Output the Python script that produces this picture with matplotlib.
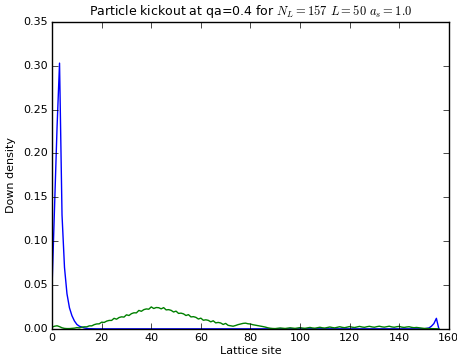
import matplotlib
matplotlib.use("Agg")
import matplotlib.pyplot as plt

plt.style.use("classic")
plt.rcParams["mathtext.fontset"] = "cm"
plt.rcParams["font.size"] = 8

# site index 0..156
sites = list(range(157))

# spin-down density, initial kicked particle (blue)
blue_density = [
    0.050, 0.140, 0.230, 0.303, 0.130, 0.070, 0.040, 0.024, 0.015, 0.009,
    0.005, 0.003, 0.002, 0.001, 0.0005, 0.0002, 0.0001, 0.0, 0.0, 0.0,
    0.0, 0.0, 0.0, 0.0, 0.0, 0.0, 0.0, 0.0, 0.0, 0.0,
    0.0, 0.0, 0.0, 0.0, 0.0, 0.0, 0.0, 0.0, 0.0, 0.0,
    0.0, 0.0, 0.0, 0.0, 0.0, 0.0, 0.0, 0.0, 0.0, 0.0,
    0.0, 0.0, 0.0, 0.0, 0.0, 0.0, 0.0, 0.0, 0.0, 0.0,
    0.0, 0.0, 0.0, 0.0, 0.0, 0.0, 0.0, 0.0, 0.0, 0.0,
    0.0, 0.0, 0.0, 0.0, 0.0, 0.0, 0.0, 0.0, 0.0, 0.0,
    0.0, 0.0, 0.0, 0.0, 0.0, 0.0, 0.0, 0.0, 0.0, 0.0,
    0.0, 0.0, 0.0, 0.0, 0.0, 0.0, 0.0, 0.0, 0.0, 0.0,
    0.0, 0.0, 0.0, 0.0, 0.0, 0.0, 0.0, 0.0, 0.0, 0.0,
    0.0, 0.0, 0.0, 0.0, 0.0, 0.0, 0.0, 0.0, 0.0, 0.0,
    0.0, 0.0, 0.0, 0.0, 0.0, 0.0, 0.0, 0.0, 0.0, 0.0,
    0.0, 0.0, 0.0, 0.0, 0.0, 0.0, 0.0, 0.0, 0.0, 0.0,
    0.0, 0.0, 0.0, 0.0, 0.0, 0.0, 0.0, 0.0, 0.0, 0.0,
    0.0, 0.0005, 0.001, 0.003, 0.006, 0.012, 0.0,
]

# spin-down density after kickout (green)
green_density = [
    0.0020, 0.0030, 0.0035, 0.0025, 0.0012, 0.0005, 0.0003, 0.0003, 0.0005, 0.0008,
    0.0014, 0.0011, 0.0019, 0.0023, 0.0023, 0.0034, 0.0034, 0.0048, 0.0056, 0.0057,
    0.0076, 0.0073, 0.0088, 0.0096, 0.0096, 0.0120, 0.0110, 0.0129, 0.0137, 0.0134,
    0.0160, 0.0152, 0.0173, 0.0183, 0.0182, 0.0210, 0.0200, 0.0219, 0.0227, 0.0224,
    0.0250, 0.0232, 0.0243, 0.0241, 0.0228, 0.0242, 0.0216, 0.0219, 0.0211, 0.0192,
    0.0202, 0.0176, 0.0179, 0.0171, 0.0152, 0.0162, 0.0136, 0.0139, 0.0131, 0.0112,
    0.0122, 0.0098, 0.0103, 0.0097, 0.0080, 0.0092, 0.0068, 0.0073, 0.0067, 0.0050,
    0.0062, 0.0040, 0.0035, 0.0030, 0.0038, 0.0048, 0.0055, 0.0062, 0.0065, 0.0058,
    0.0055, 0.0047, 0.0042, 0.0036, 0.0032, 0.0026, 0.0020, 0.0012, 0.0007, 0.0004,
    0.0003, 0.0006, 0.0010, 0.0007, 0.0004, 0.0008, 0.0012, 0.0008, 0.0005, 0.0010,
    0.0014, 0.0009, 0.0006, 0.0011, 0.0016, 0.0010, 0.0007, 0.0013, 0.0018, 0.0012,
    0.0009, 0.0015, 0.0021, 0.0015, 0.0011, 0.0018, 0.0024, 0.0017, 0.0013, 0.0020,
    0.0026, 0.0019, 0.0015, 0.0022, 0.0028, 0.0021, 0.0017, 0.0024, 0.0029, 0.0022,
    0.0018, 0.0025, 0.0030, 0.0023, 0.0019, 0.0025, 0.0030, 0.0022, 0.0018, 0.0024,
    0.0028, 0.0020, 0.0016, 0.0021, 0.0024, 0.0017, 0.0013, 0.0016, 0.0012, 0.0008,
    0.0005, 0.0004, 0.0003, 0.0002, 0.0002, 0.0001, 0.0000,
]

fig = plt.figure(figsize=(4.57, 3.59), dpi=100, facecolor="white")
ax = fig.add_axes([0.114, 0.084, 0.868, 0.855])

ax.plot(sites, blue_density, color="b", lw=1)
ax.plot(sites, green_density, color="g", lw=1)

ax.set_xlim(0, 160)
ax.set_ylim(0, 0.35)
ax.set_xticks(range(0, 161, 20))
ax.set_yticks([0.0, 0.05, 0.10, 0.15, 0.20, 0.25, 0.30, 0.35])
ax.set_yticklabels(["0.00", "0.05", "0.10", "0.15", "0.20", "0.25", "0.30", "0.35"])
ax.tick_params(labelsize=8, pad=3)

ax.set_xlabel("Lattice site", fontsize=8, labelpad=2)
ax.set_ylabel("Down density", fontsize=8)
ax.set_title(r"Particle kickout at qa=0.4 for $N_L=157$ $L=50$ $a_s=1.0$", fontsize=9)

fig.savefig("out.png", dpi=100, facecolor="white")
